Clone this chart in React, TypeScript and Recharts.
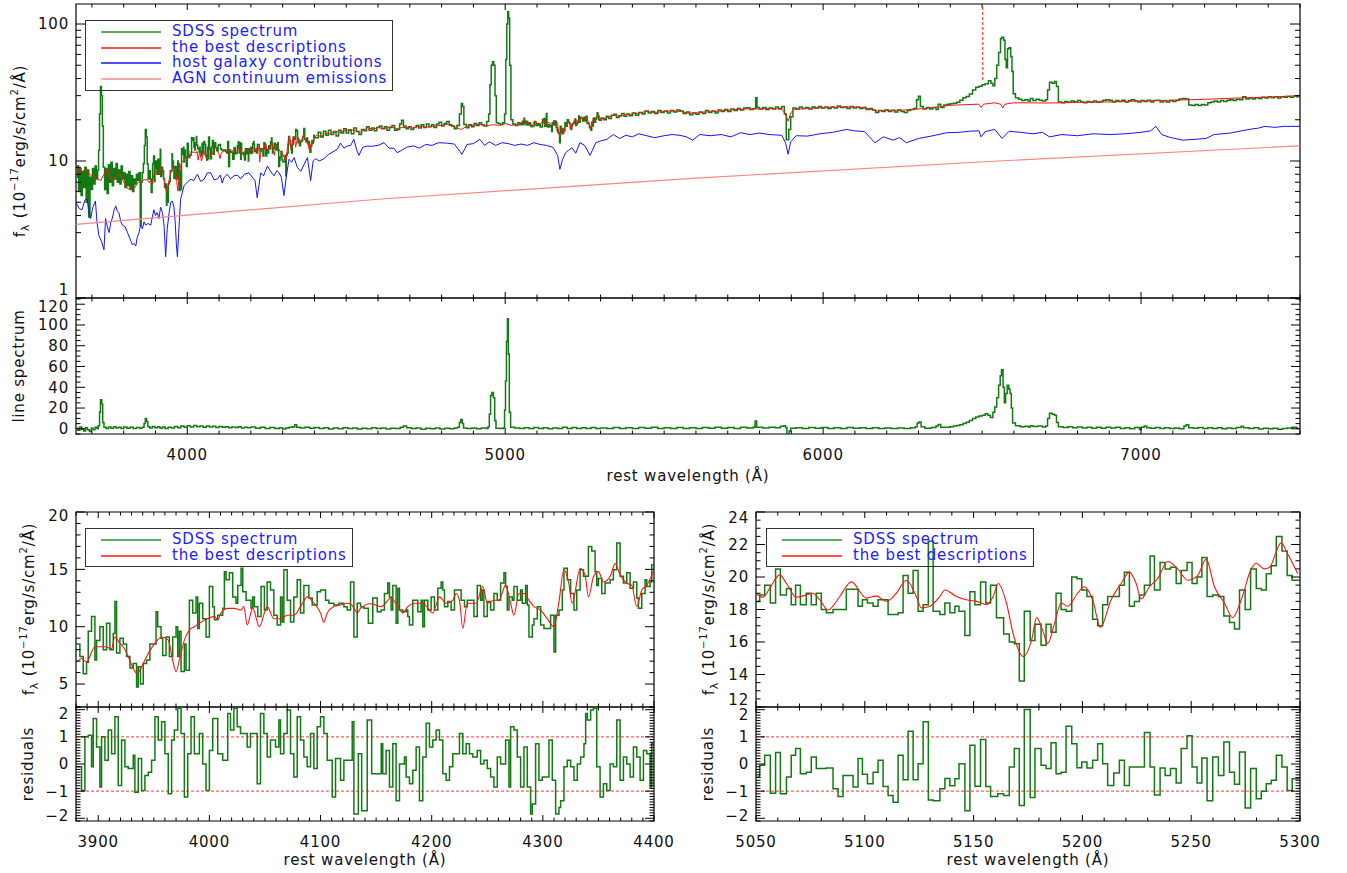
import React from 'react';
import { LineChart, Line, XAxis, YAxis, Legend, ReferenceLine, ReferenceArea } from 'recharts';

type Pt = [number, number];

const FONT = '"DejaVu Sans", Verdana, sans-serif';
const GREEN = '#137a13';
const RED = '#ff1414';
const BLUE = '#1414ff';
const PINK = '#ff8484';
const DASH = '#ff5c5c';

// ---------- overview spectrum, pieces outside the two zoom windows ----------
const sdssTopA: Pt[] = [
  [3650, 7.6], [3654, 9.2], [3658, 6.0], [3662, 8.8], [3666, 5.6], [3670, 8.4], [3674, 6.4], [3678, 9.0],
  [3682, 5.0], [3686, 8.6], [3690, 3.9], [3694, 7.6], [3698, 6.2], [3702, 8.8], [3706, 6.8], [3710, 9.2],
  [3714, 7.4], [3718, 8.6], [3721, 12], [3724, 22], [3727, 35], [3730, 30], [3733, 18], [3736, 9],
  [3740, 6.2], [3744, 8.8], [3748, 5.8], [3752, 9.4], [3756, 7.0], [3760, 9.8], [3764, 6.6], [3768, 8.8],
  [3772, 7.4], [3776, 9.6], [3780, 7.0], [3784, 8.6], [3788, 6.8], [3792, 9.2], [3796, 7.4], [3800, 8.2],
  [3804, 6.4], [3808, 8.0], [3812, 6.6], [3816, 8.4], [3820, 6.2], [3824, 7.8], [3828, 6.0], [3832, 7.4],
  [3836, 6.8], [3840, 8.0], [3844, 7.2], [3848, 8.2], [3852, 3.4], [3855, 7.0], [3858, 8.2], [3862, 9.6],
  [3865, 13], [3868, 17], [3871, 15], [3874, 9.5], [3877, 7.4],
];

const sdssTopB: Pt[] = [
  [4404, 14.8], [4412, 16.2], [4420, 15.0], [4428, 16.5], [4436, 15.4], [4444, 16.8], [4452, 15.6], [4460, 16.2],
  [4468, 15.2], [4476, 16.8], [4484, 16.0], [4492, 17.2], [4500, 16.0], [4508, 16.8], [4516, 15.8], [4524, 17.4],
  [4532, 16.4], [4540, 15.6], [4548, 17.0], [4556, 16.6], [4564, 17.8], [4572, 16.8], [4580, 17.4], [4588, 16.6],
  [4596, 17.6], [4604, 18.0], [4612, 17.2], [4620, 17.8], [4628, 16.8], [4636, 17.6], [4644, 18.2], [4652, 16.8],
  [4660, 17.0], [4668, 18.6], [4674, 19.8], [4680, 18.0], [4688, 17.2], [4696, 17.8], [4704, 17.0], [4712, 17.6],
  [4720, 18.2], [4728, 17.4], [4736, 18.4], [4744, 17.6], [4752, 18.6], [4760, 17.8], [4768, 18.4], [4776, 17.6],
  [4784, 18.6], [4792, 19.2], [4800, 18.0], [4808, 18.8], [4816, 19.4], [4824, 18.4], [4832, 18.0], [4840, 17.2],
  [4848, 18.2], [4856, 22], [4862, 26.3], [4866, 25], [4870, 18.5], [4878, 17.5], [4886, 18.4], [4894, 17.8],
  [4902, 18.8], [4910, 18.2], [4918, 19.0], [4926, 18.4], [4934, 18.0], [4942, 19.4], [4948, 22], [4952, 36],
  [4956, 50], [4960, 53], [4964, 50], [4968, 30], [4972, 19], [4978, 18.8], [4986, 18.4], [4992, 19.0],
  [4998, 22], [5002, 55], [5005, 100], [5008, 123], [5011, 110], [5014, 50], [5018, 20], [5024, 18.6],
  [5032, 18.2], [5040, 19.0], [5046, 18.4],
];

const sdssTopC: Pt[] = [
  [5302, 20.6], [5310, 20.0], [5318, 21.2], [5326, 20.4], [5334, 21.6], [5342, 21.9], [5350, 20.8], [5358, 21.4],
  [5366, 22.2], [5374, 21.2], [5382, 22.0], [5390, 21.4], [5400, 22.4], [5410, 21.6], [5420, 22.6], [5430, 22.0],
  [5440, 23.2], [5450, 22.4], [5460, 23.0], [5470, 22.2], [5480, 23.4], [5490, 22.6], [5500, 23.2], [5510, 22.4],
  [5520, 23.4], [5530, 22.8], [5540, 23.6], [5550, 23.2], [5560, 22.2], [5570, 22.8], [5580, 21.8], [5590, 22.4],
  [5600, 21.9], [5610, 22.8], [5620, 22.2], [5630, 23.4], [5640, 22.6], [5650, 23.2], [5660, 22.4], [5670, 23.6],
  [5680, 23.0], [5690, 23.8], [5700, 23.0], [5710, 24.0], [5720, 23.4], [5730, 24.2], [5740, 23.6], [5750, 24.4],
  [5760, 24.5], [5770, 23.8], [5780, 24.2], [5788, 29.0], [5792, 24.6], [5800, 24.0], [5810, 24.6], [5820, 23.8],
  [5830, 24.4], [5840, 24.0], [5850, 24.8], [5860, 24.2], [5870, 25.0], [5878, 22.0], [5884, 14.3], [5892, 17.0],
  [5898, 21.0], [5905, 24.4], [5915, 24.0], [5925, 24.8], [5935, 24.2], [5945, 24.6], [5955, 24.0], [5965, 24.8],
  [5975, 24.4], [5985, 25.0], [5995, 24.4], [6005, 24.8], [6015, 24.2], [6025, 24.8], [6035, 24.4], [6045, 25.2],
  [6055, 24.6], [6065, 24.8], [6075, 24.2], [6085, 25.0], [6095, 24.4], [6105, 24.8], [6115, 24.2], [6125, 24.6],
  [6135, 23.8], [6145, 24.2], [6155, 23.6], [6165, 22.6], [6175, 23.4], [6185, 23.0], [6195, 23.6], [6205, 23.0],
  [6215, 23.4], [6225, 22.8], [6235, 23.6], [6245, 23.0], [6255, 22.6], [6265, 23.4], [6275, 23.8], [6285, 24.2],
  [6294, 28.0], [6300, 29.7], [6306, 25.0], [6315, 24.0], [6325, 24.6], [6335, 24.0], [6345, 24.6], [6355, 23.8],
  [6362, 26.0], [6370, 24.6], [6380, 25.6], [6390, 26.0], [6400, 26.2], [6410, 26.4], [6420, 26.8], [6430, 27.8],
  [6440, 29.0], [6450, 29.6], [6460, 30.8], [6470, 33.0], [6480, 34.5], [6490, 35.2], [6500, 36.0], [6510, 36.6],
  [6520, 38.5], [6528, 37.0], [6534, 35.5], [6540, 40.0], [6546, 50.0], [6552, 62.0], [6558, 78.0], [6562, 80.0],
  [6568, 76.0], [6572, 55.0], [6576, 48.0], [6580, 66.0], [6585, 67.0], [6590, 58.0], [6594, 45.0], [6598, 31.0],
  [6605, 29.0], [6615, 28.2], [6625, 27.6], [6635, 28.0], [6645, 27.4], [6652, 28.6], [6660, 27.6], [6670, 28.2],
  [6680, 27.8], [6690, 27.4], [6700, 28.0], [6706, 33.0], [6712, 37.5], [6720, 37.0], [6728, 38.0], [6734, 35.0],
  [6740, 27.0], [6750, 26.6], [6760, 27.2], [6770, 26.8], [6780, 27.4], [6790, 27.0], [6800, 27.6], [6810, 27.0],
  [6820, 26.6], [6830, 27.2], [6840, 26.8], [6850, 27.4], [6860, 26.8], [6870, 27.2], [6880, 27.8], [6890, 28.0],
  [6900, 27.8], [6910, 27.0], [6920, 27.6], [6930, 27.2], [6940, 27.8], [6950, 27.0], [6960, 27.6], [6970, 28.0],
  [6980, 27.4], [6990, 27.0], [7000, 27.6], [7010, 27.2], [7020, 27.8], [7030, 27.0], [7040, 27.6], [7050, 27.8],
  [7060, 27.0], [7070, 27.4], [7080, 27.0], [7090, 27.6], [7100, 27.2], [7110, 27.8], [7120, 28.4], [7130, 28.6],
  [7140, 28.4], [7150, 25.6], [7160, 25.4], [7170, 25.8], [7180, 25.4], [7190, 25.8], [7200, 25.6], [7210, 26.6],
  [7220, 27.0], [7230, 27.4], [7240, 27.0], [7250, 27.6], [7260, 27.2], [7270, 27.8], [7280, 28.0], [7290, 27.6],
  [7300, 28.2], [7310, 28.0], [7320, 29.4], [7330, 28.4], [7340, 28.8], [7350, 28.4], [7360, 29.0], [7370, 28.6],
  [7380, 29.2], [7390, 28.8], [7400, 29.4], [7410, 29.0], [7420, 29.4], [7430, 28.8], [7440, 29.4], [7450, 29.2],
  [7460, 29.6], [7470, 29.2], [7480, 29.8], [7490, 29.4], [7500, 29.6],
];

const fitTopA: Pt[] = [
  [3650, 7.8], [3653, 8.2], [3660, 8.8], [3668, 8.3], [3676, 8.6], [3685, 8.5], [3695, 7.9], [3706, 7.8],
  [3716, 7.4], [3728, 7.2], [3738, 8.0], [3749, 8.7], [3758, 7.5], [3770, 7.3], [3780, 7.9], [3791, 7.8],
  [3800, 7.0], [3812, 6.3], [3822, 6.2], [3833, 6.3], [3843, 6.9], [3853, 7.1], [3864, 7.3], [3874, 7.3],
];

const fitTopB: Pt[] = [
  [4409, 15.6], [4420, 15.0], [4435, 16.0], [4450, 15.8], [4462, 16.6], [4480, 16.2], [4500, 16.8], [4514, 17.0],
  [4530, 16.6], [4545, 16.2], [4566, 17.5], [4585, 17.0], [4600, 17.6], [4619, 17.2], [4640, 17.8], [4660, 17.2],
  [4671, 17.5], [4690, 17.6], [4710, 17.4], [4730, 18.0], [4750, 17.6], [4776, 18.0], [4800, 18.2], [4818, 18.5],
  [4840, 17.8], [4862, 17.0], [4880, 18.0], [4900, 18.2], [4920, 18.6], [4940, 18.0], [4960, 18.4], [4980, 18.2],
  [5000, 18.8], [5020, 18.2], [5040, 18.6],
];

const fitTopC: Pt[] = [
  [5310, 20.4], [5320, 20.6], [5340, 21.5], [5360, 21.2], [5380, 21.8], [5400, 22.0], [5420, 22.4], [5445, 23.0],
  [5470, 22.6], [5500, 23.0], [5530, 23.2], [5550, 23.0], [5575, 22.4], [5600, 22.4], [5630, 22.8], [5660, 23.0],
  [5700, 23.5], [5730, 23.8], [5760, 24.0], [5800, 24.0], [5840, 24.2], [5870, 23.8], [5880, 22.5], [5890, 19.5],
  [5898, 22.5], [5910, 23.8], [5950, 24.2], [6000, 24.5], [6050, 24.8], [6100, 24.8], [6140, 24.2], [6168, 23.2],
  [6200, 23.5], [6250, 23.5], [6300, 24.0], [6350, 24.6], [6400, 25.5], [6450, 25.8], [6490, 26.0], [6497, 24.6],
  [6505, 26.0], [6540, 26.6], [6558, 26.0], [6565, 24.4], [6572, 26.0], [6600, 26.6], [6650, 26.6], [6700, 26.5],
  [6750, 26.6], [6800, 26.8], [6900, 27.0], [7000, 27.4], [7100, 27.8], [7200, 28.2], [7300, 28.8], [7400, 29.3],
  [7500, 30.0],
];

const hostGalaxy: Pt[] = [
  [3650, 5.0], [3660, 4.5], [3669, 4.4], [3678, 5.2], [3685, 5.26], [3690, 4.3], [3696, 3.8], [3703, 4.6],
  [3711, 5.1], [3716, 3.6], [3722, 2.85], [3730, 2.6], [3738, 2.25], [3743, 3.8], [3749, 3.3], [3754, 3.0],
  [3760, 3.6], [3764, 3.8], [3770, 4.4], [3775, 4.7], [3780, 4.3], [3785, 4.2], [3791, 3.6], [3796, 3.4],
  [3805, 3.3], [3812, 3.0], [3820, 2.7], [3827, 2.45], [3833, 2.5], [3838, 2.4], [3843, 2.8], [3848, 3.0],
  [3853, 3.4], [3859, 3.2], [3864, 3.6], [3869, 3.4], [3876, 3.5], [3885, 3.4], [3890, 3.9], [3895, 4.4],
  [3900, 4.0], [3905, 4.2], [3911, 3.8], [3916, 4.6], [3922, 4.2], [3927, 3.4], [3932, 2.0], [3937, 3.2],
  [3943, 4.2], [3948, 5.0], [3953, 5.1], [3958, 4.6], [3962, 3.6], [3966, 2.4], [3969, 2.0], [3973, 3.0],
  [3979, 5.26], [3990, 6.6], [4000, 7.0], [4011, 7.36], [4020, 7.2], [4032, 8.0], [4042, 7.1], [4053, 7.36],
  [4063, 8.2], [4074, 8.2], [4084, 7.3], [4095, 7.4], [4104, 7.9], [4110, 6.9], [4116, 7.6], [4126, 8.0],
  [4136, 7.4], [4147, 7.8], [4158, 7.9], [4168, 7.4], [4180, 8.0], [4194, 8.2], [4205, 7.6], [4213, 7.2],
  [4220, 5.4], [4231, 8.2], [4240, 7.8], [4252, 9.2], [4262, 8.4], [4273, 7.8], [4282, 8.5], [4289, 8.2],
  [4296, 7.6], [4304, 5.6], [4312, 7.8], [4320, 10.3], [4328, 9.8], [4336, 10.6], [4346, 9.0], [4357, 8.4],
  [4368, 9.5], [4378, 10.6], [4388, 7.2], [4396, 10.0], [4404, 10.4], [4415, 10.0], [4430, 10.4], [4445, 11.2],
  [4462, 11.8], [4472, 12.2], [4482, 13.5], [4493, 12.4], [4503, 12.85], [4514, 13.0], [4524, 14.4], [4533, 12.0],
  [4540, 11.0], [4552, 12.6], [4566, 12.85], [4580, 12.8], [4600, 13.0], [4619, 13.6], [4635, 12.4], [4650, 12.4],
  [4660, 11.5], [4670, 11.8], [4690, 12.6], [4712, 12.9], [4730, 12.4], [4750, 13.2], [4770, 13.0], [4790, 13.6],
  [4816, 13.5], [4840, 13.3], [4864, 11.2], [4880, 13.2], [4900, 13.4], [4920, 14.4], [4935, 13.0], [4950, 13.8],
  [4970, 13.0], [4990, 13.6], [5010, 13.4], [5030, 13.0], [5050, 13.3], [5070, 13.0], [5090, 13.6], [5110, 13.2],
  [5130, 13.0], [5150, 12.6], [5165, 11.0], [5172, 8.7], [5180, 10.2], [5190, 11.5], [5200, 12.0], [5210, 12.5],
  [5222, 11.4], [5235, 13.6], [5250, 13.0], [5267, 11.0], [5285, 13.6], [5300, 14.0], [5320, 14.4], [5340, 15.6],
  [5360, 14.6], [5380, 15.4], [5400, 15.0], [5420, 15.8], [5445, 15.3], [5470, 14.8], [5500, 15.3], [5525, 15.6],
  [5550, 15.4], [5570, 15.0], [5590, 14.2], [5612, 15.6], [5645, 15.3], [5680, 15.6], [5710, 15.0], [5740, 16.1],
  [5770, 15.6], [5800, 16.0], [5830, 15.6], [5870, 15.4], [5882, 13.5], [5890, 11.2], [5898, 13.8], [5915, 15.3],
  [5950, 15.2], [5990, 15.8], [6030, 16.2], [6074, 17.0], [6100, 16.6], [6130, 16.4], [6163, 13.6], [6190, 15.0],
  [6220, 14.2], [6240, 14.8], [6262, 13.6], [6300, 14.6], [6340, 15.2], [6390, 16.1], [6430, 16.2], [6460, 16.5],
  [6490, 16.6], [6497, 15.0], [6510, 16.4], [6540, 17.0], [6563, 14.6], [6585, 16.5], [6620, 16.2], [6660, 15.8],
  [6690, 16.2], [6712, 15.0], [6750, 15.6], [6800, 15.3], [6850, 15.8], [6900, 15.6], [6950, 15.8], [7000, 16.2],
  [7030, 16.6], [7047, 17.9], [7065, 15.6], [7090, 14.9], [7131, 14.2], [7170, 14.4], [7204, 14.6], [7230, 15.6],
  [7280, 16.0], [7340, 17.0], [7370, 17.4], [7390, 17.9], [7420, 17.6], [7450, 17.9], [7500, 17.9],
];

const agnContinuum: Pt[] = [[3650, 3.45], [4600, 5.26], [5600, 7.5], [6550, 10.0], [7500, 12.9]];

const lineSpectrum: Pt[] = [
  [3650, 0.5], [3656, -1.5], [3662, 1.8], [3668, -0.5], [3674, -2.2], [3680, 1.0], [3686, -1.0], [3692, -2.5],
  [3698, 0.5], [3704, -0.8], [3710, 1.5], [3716, 0.2], [3720, 3], [3724, 16], [3727, 28], [3731, 24], [3734, 6],
  [3738, 1.5], [3745, 0.2], [3752, 1.8], [3760, 0.6], [3768, 2.0], [3776, 0.8], [3784, 1.6], [3792, 0.4], [3800, 1.8],
  [3810, 0.6], [3820, 1.4], [3830, 0.2], [3840, 1.2], [3850, 0.5], [3858, 1.6], [3864, 5], [3868, 10], [3872, 7],
  [3876, 2], [3882, 0.8], [3890, 2.2], [3898, 1.0], [3906, 2.0], [3914, 0.6], [3922, 1.8], [3930, 0.4], [3940, 1.6],
  [3950, 0.8], [3960, 2.2], [3970, 1.0], [3980, 2.6], [3990, 1.6], [4000, 3.0], [4010, 1.8], [4020, 3.2], [4030, 2.0],
  [4040, 2.8], [4050, 1.6], [4060, 2.6], [4070, 1.8], [4080, 2.4], [4090, 1.2], [4100, 2.2], [4110, 1.4], [4120, 2.0],
  [4130, 1.0], [4140, 1.8], [4150, 1.2], [4160, 2.0], [4170, 0.8], [4180, 1.6], [4190, 1.0], [4200, 1.8], [4215, 0.6],
  [4230, 1.4], [4245, 0.4], [4260, 1.2], [4275, 0.2], [4290, 1.0], [4300, -0.2], [4310, 0.8], [4320, 1.6], [4332, 2.0],
  [4338, 4.0], [4344, 1.4], [4355, 0.8], [4370, 1.6], [4385, 0.6], [4400, 1.2], [4415, 0.2], [4430, 1.0], [4445, -0.2],
  [4460, 0.8], [4475, 0.0], [4490, 1.0], [4505, 0.2], [4520, 0.8], [4535, -0.2], [4550, 0.6], [4565, 0.0], [4580, 1.0],
  [4595, 0.2], [4610, 0.8], [4625, -0.2], [4640, 0.6], [4655, 0.2], [4670, 1.4], [4680, 2.8], [4690, 1.0], [4705, 0.2],
  [4720, 0.8], [4735, -0.4], [4750, 0.6], [4765, 0.0], [4780, 0.8], [4795, -0.2], [4810, 0.6], [4825, 0.0], [4840, 0.8],
  [4850, 1.6], [4856, 6], [4860, 9], [4865, 5], [4869, 0.8], [4880, 0.2], [4895, 0.8], [4910, 0.0], [4925, 0.8],
  [4940, 0.2], [4946, 2], [4950, 14], [4954, 32], [4958, 35], [4963, 30], [4967, 8], [4971, 0.5], [4985, 0.2],
  [4994, 1.0], [4998, 18], [5001, 46], [5004, 84], [5007, 106], [5010, 72], [5013, 16], [5017, 1.5], [5030, 0.8],
  [5045, 0.2], [5060, 1.0], [5075, 0.2], [5090, 1.2], [5105, 0.4], [5120, 1.0], [5135, 0.0], [5150, 0.8], [5165, 0.2],
  [5180, 1.4], [5195, 0.4], [5210, 1.2], [5225, 0.2], [5240, 1.0], [5255, 0.4], [5270, 1.2], [5285, 0.2], [5300, 0.8],
  [5320, 0.2], [5340, 1.2], [5360, 0.4], [5380, 1.0], [5400, 0.2], [5420, 1.2], [5440, 0.6], [5460, 1.4], [5480, 0.4],
  [5500, 1.0], [5520, 0.2], [5540, 1.2], [5560, 0.4], [5580, 1.0], [5600, 0.2], [5620, 1.2], [5640, 0.6], [5660, 1.4],
  [5680, 0.6], [5700, 1.2], [5720, 0.4], [5740, 1.4], [5760, 0.8], [5780, 1.6], [5786, 7.5], [5791, 1.4], [5810, 0.8],
  [5830, 1.6], [5850, 1.0], [5866, 2.4], [5876, 3.0], [5882, 1.0], [5886, -4.8], [5893, -2.0], [5898, 0.6], [5915, 1.0],
  [5935, 0.4], [5955, 1.2], [5975, 0.6], [5995, 1.2], [6015, 0.4], [6035, 1.0], [6055, 0.4], [6075, 1.2], [6095, 0.6],
  [6115, 1.0], [6135, 0.4], [6155, 1.0], [6175, 0.2], [6195, 0.8], [6215, 0.2], [6235, 0.8], [6255, 0.4], [6275, 1.0],
  [6290, 2.0], [6296, 5.5], [6302, 6.5], [6308, 2.0], [6320, 0.6], [6340, 1.2], [6355, 2.8], [6362, 4.2], [6370, 1.6],
  [6385, 1.4], [6400, 2.0], [6410, 2.6], [6420, 3.2], [6430, 4.0], [6440, 5.0], [6450, 6.2], [6460, 8.0], [6470, 10.0],
  [6480, 11.4], [6490, 12.4], [6500, 13.0], [6510, 14.5], [6518, 13.0], [6526, 11.0], [6534, 16.0], [6540, 21.0],
  [6546, 30], [6552, 42], [6557, 51], [6561, 57], [6566, 40], [6570, 25], [6574, 34], [6579, 42], [6584, 38],
  [6588, 34], [6592, 20], [6596, 5.5], [6605, 3.0], [6620, 2.0], [6635, 2.4], [6645, 1.8], [6652, 3.0], [6660, 2.2],
  [6675, 2.6], [6690, 1.8], [6700, 2.6], [6706, 10], [6712, 15], [6720, 14], [6728, 13], [6734, 6], [6740, 2.0],
  [6755, 1.2], [6770, 2.0], [6785, 1.0], [6800, 1.8], [6815, 0.8], [6830, 1.6], [6845, 0.6], [6860, 1.4], [6875, 0.6],
  [6890, 1.6], [6905, 0.8], [6920, 1.4], [6935, 0.4], [6950, 1.0], [6965, 0.0], [6980, 1.2], [6995, -0.6], [7000, 1.4],
  [7010, 2.6], [7018, 1.0], [7030, 0.6], [7045, 1.2], [7060, 0.4], [7075, 1.0], [7090, 0.2], [7105, 0.8], [7120, 0.0],
  [7135, 2.8], [7142, 4.0], [7150, 1.0], [7165, 0.6], [7180, 1.2], [7195, 0.2], [7210, 1.0], [7225, 0.4], [7240, 1.0],
  [7255, 0.0], [7270, 0.8], [7285, 0.2], [7300, 1.2], [7315, 2.4], [7322, 1.0], [7340, 0.4], [7355, 1.0], [7370, -0.2],
  [7385, 0.6], [7400, 0.0], [7415, 0.6], [7430, -0.4], [7445, 0.4], [7460, 0.8], [7475, 1.6], [7490, 0.4], [7500, 1.0],
];

// ---------- zoom window 3880-4400 ----------
const sdssBlueWin: Pt[] = [
  [3880, 8.5], [3883.5, 7.4], [3886.5, 5.9], [3889.5, 6.9], [3891, 9.6], [3894, 10.9], [3897, 7.1], [3898.5, 8.8],
  [3901.5, 10.0], [3904.5, 8.0], [3907.5, 10.3], [3910.5, 8.0], [3913.5, 9.4], [3915, 12.2], [3916.5, 7.7], [3919.5, 9.0],
  [3922.5, 8.5], [3925.5, 7.4], [3928.5, 6.4], [3931.5, 6.8], [3934.5, 4.75], [3936, 6.5], [3938, 5.0], [3940.5, 6.8],
  [3943.5, 7.1], [3946.5, 8.5], [3952, 11.3], [3953.5, 10.0], [3956.5, 9.0], [3958, 7.5], [3961, 9.1], [3964, 7.4],
  [3967, 9.1], [3970, 10.0], [3971.5, 7.4], [3973, 9.6], [3974.5, 6.1], [3977.5, 8.5], [3979, 6.2], [3982, 12.3],
  [3985, 11.2], [3988, 12.6], [3989.5, 9.85], [3991, 12.05], [3994, 10.7], [3997, 9.1], [4000, 13.5], [4003, 11.75],
  [4004.5, 10.6], [4007.5, 11.0], [4012, 11.6], [4013.5, 14.8], [4015, 14.1], [4018, 14.7], [4021, 12.6], [4024, 12.05],
  [4025.5, 13.6], [4028.5, 15.1], [4030, 13.05], [4033, 12.3], [4037.5, 11.6], [4039, 12.6], [4040.5, 11.75], [4043.5, 10.9],
  [4046.5, 13.5], [4049.5, 11.45], [4052, 13.9], [4055, 13.2], [4058, 11.0], [4061, 10.15], [4064, 12.6], [4065.5, 10.4],
  [4067, 14.96], [4070, 12.3], [4073, 10.4], [4076, 12.6], [4079, 14.1], [4082, 11.2], [4085, 13.6], [4089.5, 12.5],
  [4092.5, 11.9], [4097, 13.05], [4100, 13.2], [4104.5, 12.3], [4107.5, 12.05], [4112, 11.9], [4116.5, 12.05], [4121, 11.75],
  [4124, 11.45], [4127, 13.9], [4130, 9.1], [4133, 12.05], [4136, 11.75], [4139, 11.6], [4143, 10.3], [4147, 12.5],
  [4151, 11.3], [4154.5, 11.45], [4157.5, 12.9], [4160.5, 13.8], [4162, 12.6], [4163.5, 11.45], [4165, 13.6], [4168, 10.3],
  [4169.5, 13.35], [4171, 11.45], [4174, 11.3], [4177, 11.45], [4178.5, 10.9], [4180, 10.15], [4183, 12.3], [4187.5, 11.3],
  [4190.5, 12.3], [4192, 10.0], [4193.5, 12.3], [4196.5, 11.45], [4199.5, 12.6], [4202.5, 11.45], [4205.5, 13.35], [4208.5, 13.9],
  [4210, 13.2], [4211.5, 11.75], [4214.5, 12.2], [4217.5, 11.45], [4220.5, 13.2], [4226.5, 12.3], [4229.5, 11.75], [4232, 12.3],
  [4238, 10.9], [4241, 13.6], [4244, 12.3], [4245.5, 13.2], [4247, 10.9], [4250, 12.2], [4253, 11.45], [4256, 12.9],
  [4259, 12.3], [4262, 13.8], [4265, 14.7], [4266.5, 13.5], [4268, 11.45], [4269.5, 12.6], [4272.5, 12.3], [4274, 13.5],
  [4277, 12.3], [4280, 13.2], [4281.5, 12.05], [4284.5, 13.6], [4286, 11.9], [4287.5, 9.1], [4290.5, 10.15], [4292, 10.7],
  [4295, 11.75], [4298, 10.15], [4301, 9.85], [4307, 11.0], [4310, 7.8], [4311.5, 11.0], [4314.5, 11.45], [4317.5, 13.2],
  [4319, 15.1], [4322, 14.1], [4325, 12.9], [4328, 11.45], [4330.5, 13.2], [4333.5, 14.96], [4336.5, 14.4], [4341, 17.0],
  [4344, 16.6], [4347, 14.8], [4348.5, 13.6], [4350, 14.2], [4353, 12.9], [4356, 13.8], [4360.5, 14.1], [4363.5, 14.96],
  [4366.5, 17.3], [4369.5, 14.4], [4372.5, 13.8], [4375.5, 14.7], [4378.5, 13.35], [4381.5, 13.9], [4384.5, 12.5], [4386, 11.6],
  [4389, 12.9], [4392, 14.1], [4393.5, 13.5], [4396.5, 13.9], [4398, 15.4], [4400, 14.8],
];

const fitBlueWin: Pt[] = [
  [3881, 6.94], [3885, 7.23], [3889.5, 6.94], [3897, 8.25], [3906, 8.25], [3912, 8.1], [3915, 9.1], [3919.5, 8.54],
  [3922.5, 8.25], [3927, 7.38], [3931.5, 6.36], [3935, 5.9], [3939, 6.5], [3945, 7.67], [3951, 8.54], [3957, 9.1],
  [3963, 8.83], [3967, 7.08], [3970, 6.06], [3973, 7.08], [3977.5, 8.83], [3982, 9.7], [3986.5, 10.0], [3992.5, 10.4],
  [3998.5, 10.7], [4004.5, 10.9], [4007.5, 10.6], [4010.5, 11.2], [4016.5, 11.6], [4022.5, 11.6], [4028.5, 11.45], [4031, 11.75],
  [4034, 10.15], [4039, 11.6], [4045, 10.0], [4052, 11.75], [4058, 10.7], [4064, 10.7], [4070, 11.0], [4076, 11.0],
  [4082, 11.75], [4088, 12.6], [4094, 12.05], [4100, 11.2], [4103, 10.4], [4106, 11.2], [4112, 11.75], [4118, 11.9],
  [4124, 12.05], [4128, 11.9], [4130, 11.6], [4133, 11.2], [4136, 11.6], [4145, 12.0], [4154.5, 11.75], [4163.5, 12.5],
  [4169.5, 11.75], [4174, 11.2], [4178.5, 11.75], [4184.5, 12.05], [4192, 12.05], [4201, 11.2], [4207, 12.6], [4213, 12.05],
  [4219, 12.3], [4222, 12.9], [4225, 12.3], [4228, 9.85], [4232, 12.05], [4240, 12.05], [4246, 13.5], [4250, 12.05],
  [4256, 12.3], [4260.5, 12.3], [4266.5, 13.6], [4271, 12.05], [4274, 11.0], [4278.5, 12.9], [4283, 12.9], [4287.5, 12.3],
  [4292, 11.75], [4298, 11.45], [4304, 10.7], [4310, 10.0], [4314.3, 12.05], [4319, 14.96], [4323.3, 13.8], [4326.3, 12.05],
  [4333.7, 15.1], [4338, 14.5], [4341, 12.6], [4345.7, 14.4], [4350, 14.8], [4354.6, 13.9], [4360.6, 14.4], [4365, 15.5],
  [4369.6, 14.5], [4375.5, 13.8], [4380, 13.6], [4384.5, 11.75], [4389, 13.2], [4393.4, 13.6], [4399.4, 14.8],
];

const resBlueWin: Pt[] = [
  [3880, -0.1], [3885, -0.98], [3888, 1.0], [3891, 1.06], [3894, -0.1], [3895.5, 1.68], [3898.5, 0.63], [3901.5, -0.85],
  [3903, 1.0], [3906, 0.14], [3909, 1.25], [3912, 0.38], [3915, 1.74], [3918, -0.79], [3921, 0.88], [3924, -0.1],
  [3927, -0.17], [3931.5, 0.32], [3933, -1.04], [3936, 0.2], [3939, -0.98], [3942, -0.42], [3945, -0.3], [3948, 0.14],
  [3951, 1.74], [3954, 0.88], [3957, 1.56], [3960, 0.38], [3963, -1.1], [3966, 0.88], [3968.5, 1.25], [3971.5, 2.05],
  [3974.5, 1.12], [3977.5, -1.22], [3980.5, 0.38], [3983.5, 1.74], [3986.5, 0.38], [3991, 1.12], [3994, 0], [3997, -0.98],
  [4000, 0.5], [4003, 1.68], [4007.5, 0.38], [4012, 0.14], [4016.5, 1.86], [4019, 1.25], [4022, 2.05], [4025, 1.37],
  [4028, 1.12], [4034, 0.63], [4037, 1.12], [4043, -0.73], [4046, 1.86], [4049, 1.12], [4052, 0.26], [4055, 0.88],
  [4059.5, 0.63], [4062.5, 1.62], [4064, 0.38], [4067, 1.12], [4070, 1.99], [4073, 0.38], [4076, -0.48], [4079, 1.74],
  [4082, 0.88], [4085, 0.26], [4088, -0.1], [4091, 1.12], [4094, -0.17], [4097, 1.37], [4100, 1.74], [4103, 1.12],
  [4106, 0.14], [4110.5, -1.22], [4113.5, 0.2], [4118, -0.6], [4121, 0.14], [4128.5, 1.56], [4130, -1.84], [4134, 0.38],
  [4137, -1.72], [4142, 1.62], [4146, -0.36], [4154.6, 0.75], [4156, -0.36], [4159, 0.5], [4162, -0.85], [4165, 0.75],
  [4168, -1.35], [4171, 0], [4175.5, 0.26], [4177, -0.48], [4180, -0.73], [4183, -0.23], [4186, 0.63], [4189, -1.35],
  [4192, 0.26], [4195, 1.5], [4198, 0.63], [4201, 0.88], [4204, 1.25], [4207, 0.88], [4210, -0.36], [4213, -0.6],
  [4216, -0.1], [4219, 0.38], [4225, 1.12], [4228, 0.38], [4231, 0.75], [4234, 0.38], [4237, 0.26], [4241, 0.5],
  [4244, 0], [4247, 0.14], [4250, -0.17], [4253, -0.48], [4256, -0.85], [4259, 0.26], [4262, 0], [4266.5, 0.88],
  [4269.5, -0.85], [4271, 1.37], [4274, 1.25], [4277, 0.26], [4280, -0.85], [4283, 0.63], [4286, -0.85], [4289, -1.84],
  [4290.5, -1.47], [4293.5, 0.75], [4296.5, -0.6], [4299.5, -0.48], [4305.5, 0.88], [4308.5, -0.6], [4311.5, -1.84], [4314.5, -1.6],
  [4316, -1.35], [4319, -0.1], [4322, 0.14], [4325, -0.1], [4328, -0.6], [4331, 0], [4334, 0.26], [4337, 0.75],
  [4338.5, 1.86], [4340, 1.62], [4343, 1.99], [4345.5, 2.05], [4348.5, -0.1], [4351.5, -1.22], [4354.5, -0.73], [4357.5, -0.98],
  [4360.5, 0], [4363.5, -0.1], [4366.5, 1.62], [4369.5, -0.6], [4372.5, 0.26], [4375.5, 0], [4378.5, -0.48], [4381.5, 0.63],
  [4384.5, 0.26], [4387.5, -0.6], [4390.5, 0.5], [4393.5, 0.38], [4396.5, -0.85], [4398, 0.75], [4400, 0.75],
];

// ---------- zoom window 5050-5300 ----------
const sdssGreenWin: Pt[] = [
  [5050, 18.5], [5051.7, 18.9], [5054, 19.5], [5056.6, 18.4], [5059, 20.5], [5061.2, 18.9], [5064, 19.3], [5066.2, 18.3],
  [5068.2, 19.5], [5070.4, 18.3], [5073.1, 19.0], [5075.4, 18.3], [5077.7, 19.0], [5080, 18.0], [5082.3, 17.8], [5085.4, 18.0],
  [5091.5, 19.25], [5096.9, 18.2], [5098.9, 18.6], [5101.2, 18.4], [5103.8, 18.2], [5106.1, 18.6], [5110.7, 17.7], [5115.3, 17.8],
  [5117.6, 20.1], [5119.9, 19.0], [5122.2, 20.4], [5124.5, 17.9], [5126.8, 18.3], [5129.2, 22.2], [5131.4, 17.9], [5134.5, 17.7],
  [5136.8, 18.4], [5139.1, 17.8], [5141.4, 18.2], [5143.3, 17.9], [5146, 16.4], [5148.3, 19.1], [5150.6, 18.3], [5153.2, 19.7],
  [5155.6, 18.4], [5157.8, 19.5], [5160.5, 17.5], [5163.8, 16.5], [5166.4, 16.0], [5168.7, 15.9], [5171, 13.6], [5173.3, 17.9],
  [5176, 16.1], [5178.2, 17.1], [5181, 15.8], [5183.3, 17.1], [5185.6, 16.6], [5187.9, 19.0], [5190.2, 18.0], [5192.5, 17.9],
  [5195.1, 20.0], [5197.5, 19.9], [5199.7, 19.2], [5202.1, 18.8], [5204.7, 17.4], [5207, 17.0], [5209.3, 18.3], [5211.6, 18.8],
  [5217, 19.5], [5219.3, 20.3], [5221.6, 18.2], [5223.9, 18.5], [5226.2, 18.9], [5228.5, 19.5], [5231.1, 21.3], [5233.1, 19.2],
  [5235.7, 20.9], [5238, 20.5], [5240.5, 20.6], [5243.1, 19.6], [5245.4, 20.4], [5248.1, 20.9], [5250.4, 19.6], [5252.7, 20.0],
  [5254.9, 21.2], [5257.3, 18.8], [5259.9, 18.9], [5262.5, 18.8], [5265, 17.6], [5267.6, 17.2], [5269.9, 16.8], [5272.2, 19.2],
  [5274.8, 18.0], [5277.3, 20.5], [5279.9, 19.3], [5282.2, 19.2], [5284.5, 20.2], [5286.8, 20.7], [5289.1, 22.5], [5291.7, 21.6],
  [5294.1, 20.1], [5296.4, 19.8], [5300, 19.8],
];

const fitGreenWin: Pt[] = [
  [5050, 19.0], [5053.2, 18.75], [5056.3, 19.3], [5060.9, 20.13], [5064, 19.6], [5068.5, 18.75], [5073.1, 18.9], [5076.2, 19.0],
  [5079.3, 18.6], [5083.1, 17.97], [5088.5, 18.8], [5093.8, 19.7], [5100.7, 18.7], [5105.3, 18.84], [5109.9, 18.5], [5114.5, 19.0],
  [5119.1, 19.8], [5123.7, 18.8], [5126, 18.1], [5129.9, 18.2], [5134.5, 18.8], [5136.8, 19.2], [5142.1, 18.8], [5146.7, 18.6],
  [5151.3, 18.5], [5155.9, 18.3], [5159, 18.8], [5161.3, 19.6], [5165.1, 18.4], [5168.2, 16.5], [5172.8, 15.1], [5176.6, 16.1],
  [5179, 17.5], [5181.8, 16.7], [5184, 15.9], [5187.1, 17.1], [5190.2, 18.4], [5193.3, 18.2], [5197.8, 19.0], [5200.9, 19.4],
  [5204.7, 18.6], [5208.3, 16.9], [5213.2, 18.6], [5217.8, 19.6], [5221.6, 20.3], [5224.7, 19.6], [5227, 18.65], [5230.8, 19.4],
  [5234.6, 19.9], [5239.2, 20.95], [5243.8, 20.5], [5248.4, 19.8], [5253, 20.1], [5256.9, 21.1], [5260.7, 19.4], [5265.3, 18.4],
  [5269.1, 17.5], [5273, 18.6], [5277.6, 20.5], [5279.9, 20.85], [5283.7, 20.5], [5286, 20.6], [5291.3, 22.1], [5294.4, 21.4],
  [5299, 20.2],
];

const resGreenWin: Pt[] = [
  [5050, -0.48], [5051.7, -0.05], [5054, 0.32], [5056.6, -1.08], [5059, 0.42], [5061.2, -1.1], [5064, -0.48], [5066.2, 0.32],
  [5068.2, 0.57], [5070.4, -0.36], [5073.1, -0.3], [5075.4, 0.26], [5077.7, -0.17], [5082.3, -0.15], [5085.4, -0.91], [5087.7, -1.2],
  [5090, -0.42], [5094.6, -0.85], [5096.9, 0.2], [5098.9, -0.38], [5101.2, -0.73], [5103.8, -0.3], [5106.1, 0.14], [5108.4, -0.83],
  [5110.7, -1.16], [5113, -1.41], [5115.3, 0.32], [5117.6, -0.58], [5119.9, 1.21], [5122.2, -0.58], [5124.5, 0.01], [5126.8, 1.56],
  [5129.2, -1.33], [5131.4, -1.35], [5134.5, -0.91], [5136.8, -0.53], [5139.1, -0.8], [5141.4, -0.54], [5143.3, 0.01], [5146, -1.72],
  [5148.3, 0.69], [5150.6, -0.82], [5153.2, 0.9], [5155.6, -0.83], [5157.8, -1.2], [5161.1, -1.1], [5163.8, -1.16], [5166.4, -0.11],
  [5168.7, 0.57], [5171, -1.53], [5173.3, 2.01], [5176, -1.23], [5178.2, 0.57], [5181, -0.05], [5183.3, -0.17], [5185.6, 0.78],
  [5187.9, -0.36], [5190.2, -0.3], [5192.5, 1.39], [5195.1, 0.75], [5197.5, -0.14], [5199.7, 0.07], [5202.1, -0.15], [5204.7, 0.14],
  [5207, 0.75], [5209.3, 0.01], [5211.6, -0.79], [5214.4, -0.33], [5217, 0.14], [5219.3, -0.79], [5221.6, -0.11], [5228.5, 1.16],
  [5231.1, -0.11], [5233.1, -1.14], [5235.7, -0.15], [5238, -0.42], [5240.5, -0.17], [5243.1, -0.7], [5245.4, 0.57], [5248.1, 1.04],
  [5250.4, -0.11], [5252.7, -0.7], [5254.9, 0.22], [5257.3, -1.35], [5259.9, 0.26], [5262.5, -0.42], [5265, 0.81], [5267.6, -0.3],
  [5269.9, -0.75], [5272.2, 0.44], [5274.8, -1.62], [5277.3, -0.17], [5279.9, -1.28], [5282.2, -1.0], [5284.5, -0.73], [5286.8, -0.6],
  [5289.1, 0.32], [5291.7, -0.11], [5294.1, -0.98], [5296.4, -0.54], [5300, -0.54],
];

// ---------- axes: tick values ----------
const range = (a: number, b: number, s: number) => {
  const out: number[] = [];
  for (let v = a; v <= b + 1e-9; v += s) out.push(Math.round(v * 1000) / 1000);
  return out;
};
const topXMajor = [4000, 5000, 6000, 7000];
const topXTicks = range(3700, 7500, 100);
const logMajor = [1, 10, 100];
const logTicks = [...range(1, 9, 1), ...range(10, 90, 10), 100];
const lineMajor = [0, 20, 40, 60, 80, 100, 120];
const lineTicks = range(-5, 125, 5);
const blueXMajor = [3900, 4000, 4100, 4200, 4300, 4400];
const blueXTicks = range(3880, 4400, 10);
const blueYMajor = [5, 10, 15, 20];
const blueYTicks = range(3, 20, 1);
const greenXMajor = [5050, 5100, 5150, 5200, 5250, 5300];
const greenXTicks = range(5050, 5300, 10);
const greenYMajor = [12, 14, 16, 18, 20, 22, 24];
const greenYTicks = range(12, 24, 0.5);
const resMajor = [-2, -1, 0, 1, 2];
const resTicks = range(-2.1, 2.1, 0.1);

const legendOrder = ['SDSS spectrum', 'the best descriptions', 'host galaxy contributions', 'AGN continuum emissions'];
const legendColor: Record<string, string> = {
  'SDSS spectrum': '#2a8c2a',
  'the best descriptions': RED,
  'host galaxy contributions': BLUE,
  'AGN continuum emissions': PINK,
};

const rows = (pts: Pt[]) => pts.map(([w, f]) => ({ w, f }));
const topSdss = rows([...sdssTopA, ...sdssBlueWin, ...sdssTopB, ...sdssGreenWin, ...sdssTopC]);
const topFit = rows([...fitTopA, ...fitBlueWin, ...fitTopB, ...fitGreenWin, ...fitTopC]);

// ---------- tick renderers (IDL style: inward ticks on all four sides) ----------
const labelStyle: React.CSSProperties = { fontFamily: FONT, fontSize: 15, letterSpacing: 0.8, fill: '#111' };
const fmt = (v: number) => (v < 0 ? '\u2212' + Math.abs(v) : String(v));

const xTick = (plotTop: number, major: number[], withLabel: boolean) => (p: any) => {
  const v = p.payload.value;
  const big = major.includes(v);
  const len = big ? 6 : 3.5;
  return (
    <g>
      <line x1={p.x} x2={p.x} y1={p.y} y2={p.y - len} stroke="#000" />
      <line x1={p.x} x2={p.x} y1={plotTop} y2={plotTop + len} stroke="#000" />
      {withLabel && big ? (
        <text x={p.x} y={p.y + 26} textAnchor="middle" style={labelStyle}>{v}</text>
      ) : null}
    </g>
  );
};

// end labels are nudged inwards, as IDL does
const yTick = (plotRight: number, major: number[], nudge: Record<string, number> = {}, bigLen = 9, smallLen = 4.5) => (p: any) => {
  const v = p.payload.value;
  const big = major.includes(v);
  const len = big ? bigLen : smallLen;
  const dy = nudge[String(v)] || 0;
  return (
    <g>
      <line x1={p.x} x2={p.x + len} y1={p.y} y2={p.y} stroke="#000" />
      <line x1={plotRight - len} x2={plotRight} y1={p.y} y2={p.y} stroke="#000" />
      {big ? (
        <text x={p.x - 7} y={p.y + dy} dy="0.36em" textAnchor="end" style={labelStyle}>{fmt(v)}</text>
      ) : null}
    </g>
  );
};

const LegendBox = ({ payload, width }: any) => (
  <div
    style={{
      width, boxSizing: 'border-box', border: '1.5px solid #333', padding: '3px 0',
      fontFamily: FONT, fontSize: 15, letterSpacing: 0.8,
    }}
  >
    {(payload || []).map((e: any) => (
      <div key={e.value} style={{ display: 'flex', alignItems: 'center', height: 15.7 }}>
        <svg width={60} height={4} style={{ marginLeft: 15, marginRight: 11, display: 'block' }}>
          <line x1={0} x2={60} y1={2} y2={2} stroke={legendColor[e.value] || e.color} strokeWidth={1.4} />
        </svg>
        <span style={{ color: '#2020ff', lineHeight: '15.7px', whiteSpace: 'nowrap' }}>{e.value}</span>
      </div>
    ))}
  </div>
);

const sortLegend = (item: any) => legendOrder.indexOf(item.value);

const Title = ({ x, y, rotate, children }: any) => (
  <div
    style={{
      position: 'absolute', left: x, top: y, whiteSpace: 'nowrap',
      transform: `translate(-50%, -50%)${rotate ? ' rotate(-90deg)' : ''}`,
      fontFamily: FONT, fontSize: 15, letterSpacing: 0.8, color: '#111', lineHeight: '20px',
    }}
  >
    {children}
  </div>
);

const FluxText = () => (
  <span>
    f<span style={{ fontSize: 11, position: 'relative', top: 4 }}>λ</span> (10
    <span style={{ fontSize: 10, position: 'relative', top: -7 }}>−17</span>erg/s/cm
    <span style={{ fontSize: 10, position: 'relative', top: -7 }}>2</span>/Å)
  </span>
);

const Pos = ({ x, y, children }: any) => (
  <div style={{ position: 'absolute', left: x, top: y }}>{children}</div>
);

const axisCommon = {
  allowDataOverflow: true,
  interval: 0 as const,
  axisLine: false,
  tickLine: false,
  tickSize: 0,
  tickMargin: 0,
};

export default function App() {
  return (
    <div style={{ position: 'absolute', left: 0, top: 0, width: 1347, height: 873, background: '#fff' }}>
      {/* overview spectrum, log flux */}
      <Pos x={0} y={0}>
        <LineChart width={1340} height={310} margin={{ top: 4, right: 40, bottom: 0, left: 0 }}>
          <XAxis dataKey="w" type="number" domain={[3650, 7500]} ticks={topXTicks} height={12}
            tick={xTick(4, topXMajor, false)} {...axisCommon} />
          <YAxis type="number" scale="log" domain={[1, 140]} ticks={logTicks} width={76}
            tick={yTick(1300, logMajor, { '1': -8 }, 10, 5)} {...axisCommon} />
          <ReferenceArea x1={3650} x2={7500} y1={1} y2={140} fill="none" stroke="#000" strokeWidth={1.2} />
          <ReferenceLine segment={[{ x: 6502, y: 39 }, { x: 6502, y: 140 }]} stroke={DASH} strokeDasharray="3 2" strokeWidth={1.5} />
          <Line data={topSdss} dataKey="f" name="SDSS spectrum" type="stepAfter" stroke={GREEN} strokeWidth={1.5} dot={false} isAnimationActive={false} />
          <Line data={topFit} dataKey="f" name="the best descriptions" type="linear" stroke={RED} strokeWidth={1} dot={false} isAnimationActive={false} />
          <Line data={rows(hostGalaxy)} dataKey="f" name="host galaxy contributions" type="linear" stroke={BLUE} strokeWidth={1} dot={false} isAnimationActive={false} />
          <Line data={rows(agnContinuum)} dataKey="f" name="AGN continuum emissions" type="linear" stroke={PINK} strokeWidth={1.2} dot={false} isAnimationActive={false} />
          <Legend layout="vertical" align="center" verticalAlign="middle" itemSorter={sortLegend}
            content={<LegendBox width={308} />} wrapperStyle={{ left: 85, top: 20, width: 308 }} />
        </LineChart>
      </Pos>

      {/* line spectrum */}
      <Pos x={0} y={294}>
        <LineChart width={1340} height={190} margin={{ top: 4, right: 40, bottom: 0, left: 0 }}>
          <XAxis dataKey="w" type="number" domain={[3650, 7500]} ticks={topXTicks} height={50}
            tick={xTick(4, topXMajor, true)} {...axisCommon} />
          <YAxis type="number" domain={[-5, 126]} ticks={lineTicks} width={76}
            tick={yTick(1300, lineMajor, { '120': 2 })} {...axisCommon} />
          <ReferenceArea x1={3650} x2={7500} y1={-5} y2={126} fill="none" stroke="#000" strokeWidth={1.2} />
          <Line data={rows(lineSpectrum)} dataKey="f" name="line spectrum" type="stepAfter" stroke={GREEN} strokeWidth={1.5} dot={false} isAnimationActive={false} />
        </LineChart>
      </Pos>

      {/* zoom 3880-4400 */}
      <Pos x={0} y={498}>
        <LineChart width={690} height={216} margin={{ top: 14, right: 36, bottom: 0, left: 0 }}>
          <XAxis dataKey="w" type="number" domain={[3880, 4400]} ticks={blueXTicks} height={7}
            tick={xTick(14, blueXMajor, false)} {...axisCommon} />
          <YAxis type="number" domain={[3, 20]} ticks={blueYTicks} width={76}
            tick={yTick(654, blueYMajor, { '20': 4 })} {...axisCommon} />
          <ReferenceArea x1={3880} x2={4400} y1={3} y2={20} fill="none" stroke="#000" strokeWidth={1.2} />
          <Line data={rows(sdssBlueWin)} dataKey="f" name="SDSS spectrum" type="stepAfter" stroke={GREEN} strokeWidth={1.5} dot={false} isAnimationActive={false} />
          <Line data={rows(fitBlueWin)} dataKey="f" name="the best descriptions" type="monotone" stroke={RED} strokeWidth={1.1} dot={false} isAnimationActive={false} />
          <Legend layout="vertical" align="center" verticalAlign="middle" itemSorter={sortLegend}
            content={<LegendBox width={268} />} wrapperStyle={{ left: 85, top: 30, width: 268 }} />
        </LineChart>
      </Pos>
      <Pos x={0} y={703}>
        <LineChart width={690} height={168} margin={{ top: 4, right: 36, bottom: 0, left: 0 }}>
          <XAxis dataKey="w" type="number" domain={[3880, 4400]} ticks={blueXTicks} height={50}
            tick={xTick(4, blueXMajor, true)} {...axisCommon} />
          <YAxis type="number" domain={[-2.1, 2.1]} ticks={resTicks} width={76}
            tick={yTick(654, resMajor, { '2': 4, '-2': -3 })} {...axisCommon} />
          <ReferenceArea x1={3880} x2={4400} y1={-2.1} y2={2.1} fill="none" stroke="#000" strokeWidth={1.2} />
          <ReferenceLine y={1} stroke={DASH} strokeDasharray="3 2" strokeWidth={1.3} />
          <ReferenceLine y={-1} stroke={DASH} strokeDasharray="3 2" strokeWidth={1.3} />
          <Line data={rows(resBlueWin)} dataKey="f" name="residuals" type="stepAfter" stroke={GREEN} strokeWidth={1.5} dot={false} isAnimationActive={false} />
        </LineChart>
      </Pos>

      {/* zoom 5050-5300 */}
      <Pos x={680} y={498}>
        <LineChart width={660} height={216} margin={{ top: 14, right: 40, bottom: 0, left: 0 }}>
          <XAxis dataKey="w" type="number" domain={[5050, 5300]} ticks={greenXTicks} height={7}
            tick={xTick(14, greenXMajor, false)} {...axisCommon} />
          <YAxis type="number" domain={[12, 24]} ticks={greenYTicks} width={76}
            tick={yTick(620, greenYMajor, { '24': 6, '12': -7 })} {...axisCommon} />
          <ReferenceArea x1={5050} x2={5300} y1={12} y2={24} fill="none" stroke="#000" strokeWidth={1.2} />
          <Line data={rows(sdssGreenWin)} dataKey="f" name="SDSS spectrum" type="stepAfter" stroke={GREEN} strokeWidth={1.5} dot={false} isAnimationActive={false} />
          <Line data={rows(fitGreenWin)} dataKey="f" name="the best descriptions" type="monotone" stroke={RED} strokeWidth={1.1} dot={false} isAnimationActive={false} />
          <Legend layout="vertical" align="center" verticalAlign="middle" itemSorter={sortLegend}
            content={<LegendBox width={268} />} wrapperStyle={{ left: 86, top: 30, width: 268 }} />
        </LineChart>
      </Pos>
      <Pos x={680} y={703}>
        <LineChart width={660} height={168} margin={{ top: 4, right: 40, bottom: 0, left: 0 }}>
          <XAxis dataKey="w" type="number" domain={[5050, 5300]} ticks={greenXTicks} height={50}
            tick={xTick(4, greenXMajor, true)} {...axisCommon} />
          <YAxis type="number" domain={[-2.1, 2.1]} ticks={resTicks} width={76}
            tick={yTick(620, resMajor, { '2': 5, '-2': -3 })} {...axisCommon} />
          <ReferenceArea x1={5050} x2={5300} y1={-2.1} y2={2.1} fill="none" stroke="#000" strokeWidth={1.2} />
          <ReferenceLine y={1} stroke={DASH} strokeDasharray="3 2" strokeWidth={1.3} />
          <ReferenceLine y={-1} stroke={DASH} strokeDasharray="3 2" strokeWidth={1.3} />
          <Line data={rows(resGreenWin)} dataKey="f" name="residuals" type="stepAfter" stroke={GREEN} strokeWidth={1.5} dot={false} isAnimationActive={false} />
        </LineChart>
      </Pos>

      {/* axis titles */}
      <Title x={20.5} y={151} rotate><FluxText /></Title>
      <Title x={19} y={366} rotate>line spectrum</Title>
      <Title x={688} y={476}>rest wavelength (Å)</Title>
      <Title x={30} y={609} rotate><FluxText /></Title>
      <Title x={28} y={764} rotate>residuals</Title>
      <Title x={365} y={860}>rest wavelength (Å)</Title>
      <Title x={710} y={609} rotate><FluxText /></Title>
      <Title x={708} y={764} rotate>residuals</Title>
      <Title x={1028} y={860}>rest wavelength (Å)</Title>
    </div>
  );
}
